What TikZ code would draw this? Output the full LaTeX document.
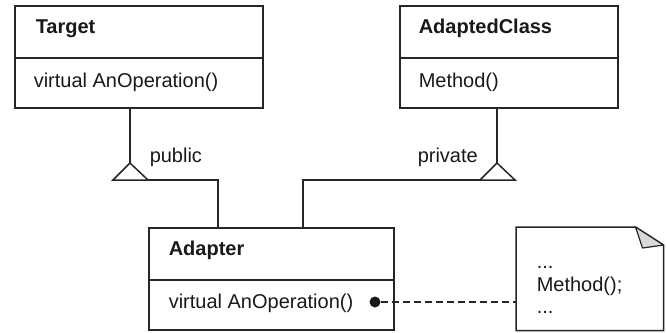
\documentclass[tikz,border=0pt]{standalone}
\usepackage{fontspec}
\setmainfont{Liberation Sans}
\begin{document}
\begin{tikzpicture}[x=1pt,y=-1pt, line width=1.5pt, draw=black!85,
  box/.style={draw=black!85, anchor=north west, inner sep=0pt},
  lbl/.style={anchor=base west, inner sep=0pt, text=black!90, font=\fontsize{20}{24}\selectfont},
  ttl/.style={anchor=base west, inner sep=0pt, text=black!90, font=\bfseries\fontsize{20}{24}\selectfont},
  dep/.style={draw=black!85, line width=1.3pt, dash pattern=on 7pt off 4pt}]
\useasboundingbox (0,0) rectangle (666,332);

% class boxes
\node[box, minimum width=248pt, minimum height=102pt] (target) at (14,5) {};
\draw (target.west |- 0,58) -- (target.east |- 0,58);
\node[ttl] (ttarget) at (35,33) {Target};
\node[lbl] (optarget) at (33,87) {virtual AnOperation()};

\node[box, minimum width=218pt, minimum height=102pt] (adapted) at (399,5) {};
\draw (adapted.west |- 0,58) -- (adapted.east |- 0,58);
\node[ttl] (tadapted) at (418,33) {AdaptedClass};
\node[lbl] (opadapted) at (418,87) {Method()};

\node[box, minimum width=245pt, minimum height=102pt] (adapter) at (148,227) {};
\draw (adapter.west |- 0,280) -- (adapter.east |- 0,280);
\node[ttl] (tadapter) at (168,255) {Adapter};
\node[lbl] (opadapter) at (168,308) {virtual AnOperation()};

% generalisation to Target
\coordinate (apexA) at (130,163);
\coordinate (blA) at (113,180);
\coordinate (brA) at (148,180);
\coordinate (joinA) at (218,227);
\draw (target.south -| apexA) -- (apexA);
\draw[line join=miter] (apexA) -- (blA) -- (brA) -- cycle;
\draw (brA) -| (joinA);
\node[lbl] (pub) at (149,162) {public};

% generalisation to AdaptedClass
\coordinate (apexB) at (497,163);
\coordinate (blB) at (480,180);
\coordinate (brB) at (515,180);
\coordinate (joinB) at (303,227);
\draw (adapted.south -| apexB) -- (apexB);
\draw[line join=miter] (apexB) -- (blB) -- (brB) -- cycle;
\draw (blB) -| (joinB);
\node[lbl] (priv) at (417,162) {private};

% note
\node[anchor=north west, minimum width=146pt, minimum height=102pt, inner sep=0pt] (note) at (516,227) {};
\draw[line join=miter] (note.south west) -- (note.north west) -- ([xshift=-28pt]note.north east)
  -- ([yshift=-18pt]note.north east) -- (note.south east) -- cycle;
\filldraw[fill=gray!30, line width=1.2pt, line join=round] ([xshift=-28pt]note.north east)
  .. controls ([xshift=-25pt,yshift=-10pt]note.north east) .. ([xshift=-21pt,yshift=-21pt]note.north east)
  -- ([yshift=-18pt]note.north east) -- cycle;
\node[lbl] (n1) at (536,268) {...};
\node[lbl] (n2) at (536,291) {Method();};
\node[lbl] (n3) at (536,313) {...};

% dependency
\node[circle, fill=black!90, minimum size=11pt, inner sep=0pt] (dot) at (375,302) {};
\draw[dep] (dot) -- (dot -| note.west);
\end{tikzpicture}
\end{document}
